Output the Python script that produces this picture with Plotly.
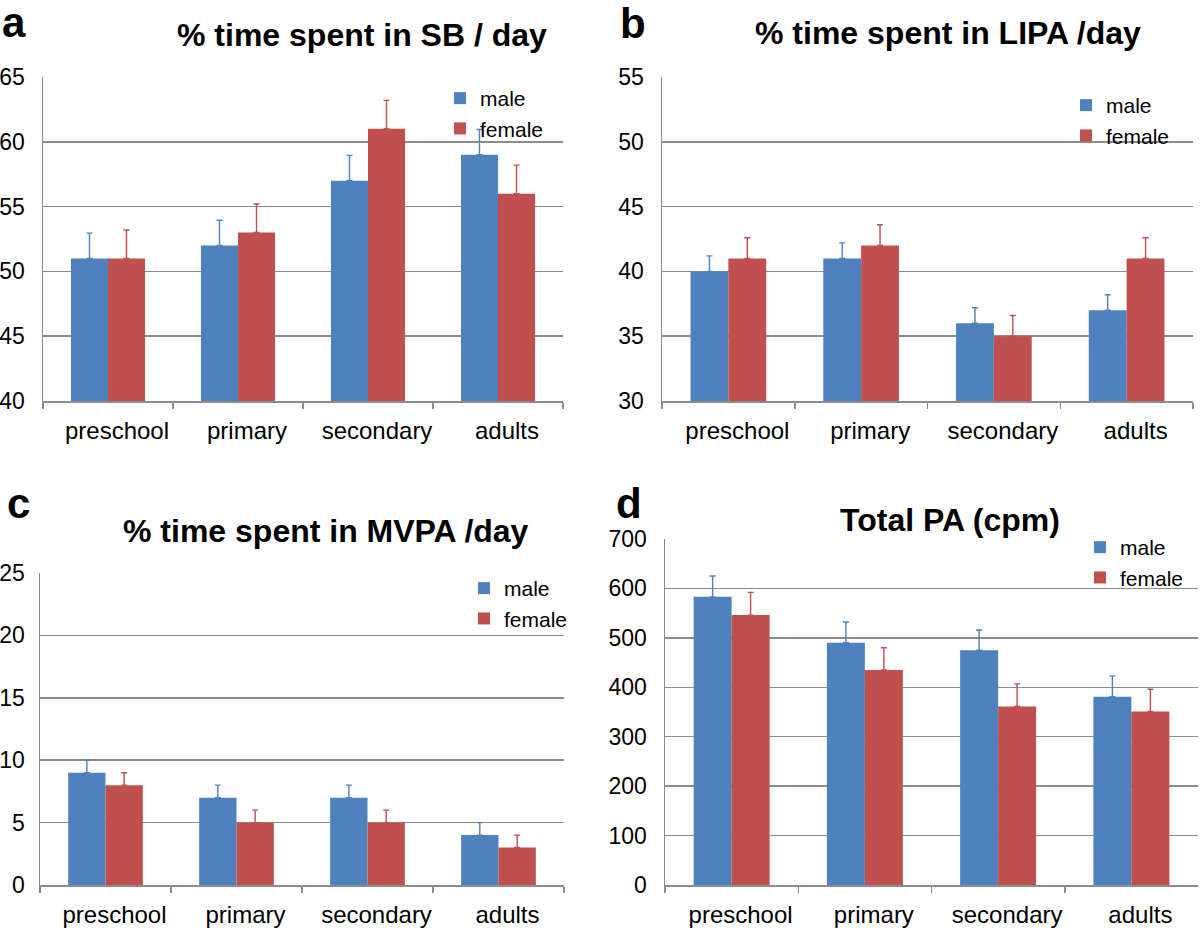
import plotly.graph_objects as go

categories = ["preschool", "primary", "secondary", "adults"]

# Panel a: % time spent in SB / day
sb_male = [51, 52, 57, 59]
sb_male_err = [1.95, 1.95, 1.95, 1.95]
sb_female = [51, 53, 61, 56]
sb_female_err = [2.2, 2.2, 2.2, 2.2]

# Panel b: % time spent in LIPA /day
lipa_male = [40, 41, 36, 37]
lipa_male_err = [1.2, 1.2, 1.2, 1.2]
lipa_female = [41, 42, 35, 41]
lipa_female_err = [1.6, 1.6, 1.6, 1.6]

# Panel c: % time spent in MVPA /day
mvpa_male = [9, 7, 7, 4]
mvpa_male_err = [1, 1, 1, 1]
mvpa_female = [8, 5, 5, 3]
mvpa_female_err = [1, 1, 1, 1]

# Panel d: Total PA (cpm)
pa_male = [583, 490, 475, 381]
pa_male_err = [42, 42, 41, 42]
pa_female = [546, 435, 361, 351]
pa_female_err = [46, 45, 46, 45]

BLUE = "#4F81BD"
RED = "#C0504D"
GRID = "#8C8C8C"
FONT = "Liberation Sans, Arial, sans-serif"

W, H = 1200, 929


def clamp(v):
    return max(0.0, min(1.0, v))


def px(x):
    return clamp(x / W)


def py(y):
    return clamp(1 - y / H)


panels = [
    dict(key="", male=sb_male, me=sb_male_err, female=sb_female, fe=sb_female_err,
         xd=(43, 563), yd=(77, 401), rng=(40, 65), dt=5, legend="legend", ystand=12,
         lx=440, ly=78, gap=0, title="% time spent in SB / day", tx=362, ty=35,
         letter="a", lxl=14, lyl=22),
    dict(key="2", male=lipa_male, me=lipa_male_err, female=lipa_female, fe=lipa_female_err,
         xd=(662, 1193), yd=(77, 401), rng=(30, 55), dt=5, legend="legend2", ystand=12,
         lx=1066, ly=85, gap=3, title="% time spent in LIPA /day", tx=948, ty=33,
         letter="b", lxl=633, lyl=23),
    dict(key="3", male=mvpa_male, me=mvpa_male_err, female=mvpa_female, fe=mvpa_female_err,
         xd=(40, 564), yd=(573, 885), rng=(0, 25), dt=5, legend="legend3", ystand=9,
         lx=464, ly=568, gap=0, title="% time spent in MVPA /day", tx=326, ty=531,
         letter="c", lxl=18, lyl=503),
    dict(key="4", male=pa_male, me=pa_male_err, female=pa_female, fe=pa_female_err,
         xd=(665, 1198), yd=(539, 885), rng=(0, 700), dt=100, legend="legend4", ystand=12,
         lx=1080, ly=527, gap=0, title="Total PA (cpm)", tx=950, ty=520,
         letter="d", lxl=629, lyl=503),
]

fig = go.Figure()
annotations = []
layout = {}

for p in panels:
    k = p["key"]
    xa = "x" + k
    ya = "y" + k
    fig.add_trace(go.Bar(
        x=categories, y=p["male"], name="male", marker_color=BLUE,
        marker_line_width=0, legendgroup="m",
        xaxis=xa, yaxis=ya, legend=p["legend"],
        error_y=dict(type="data", array=p["me"], arrayminus=[0] * 4, symmetric=False,
                     color=BLUE, thickness=1.4, width=3),
    ))
    fig.add_trace(go.Bar(
        x=categories, y=p["female"], name="female", marker_color=RED,
        marker_line_width=0, legendgroup="f",
        xaxis=xa, yaxis=ya, legend=p["legend"],
        error_y=dict(type="data", array=p["fe"], arrayminus=[0] * 4, symmetric=False,
                     color=RED, thickness=1.4, width=3),
    ))
    layout["xaxis" + k] = dict(
        domain=[px(p["xd"][0]), px(p["xd"][1])], anchor=ya, automargin=False,
        showline=True, linecolor=GRID, linewidth=1.5,
        ticks="outside", tickson="boundaries", ticklen=6, tickcolor=GRID, tickwidth=1.5,
        ticklabelstandoff=8, ticklabelshift=9,
        showgrid=False, tickfont=dict(family=FONT, size=24, color="#000"),
        fixedrange=True,
    )
    layout["yaxis" + k] = dict(
        domain=[py(p["yd"][1]), py(p["yd"][0])], anchor=xa, automargin=False,
        range=list(p["rng"]), dtick=p["dt"], tick0=0,
        showline=True, linecolor=GRID, linewidth=1.5,
        showgrid=True, gridcolor=GRID, gridwidth=1.5,
        zeroline=False, ticks="", ticklabelstandoff=p["ystand"],
        tickfont=dict(family=FONT, size=23, color="#000"),
        fixedrange=True,
    )
    layout[p["legend"]] = dict(
        x=px(p["lx"]), y=py(p["ly"]), xanchor="left", yanchor="top",
        xref="paper", yref="paper", bgcolor="rgba(0,0,0,0)",
        font=dict(family=FONT, size=21, color="#000"), tracegroupgap=p["gap"],
        itemwidth=30, traceorder="normal",
    )
    annotations.append(dict(
        x=px(p["tx"]), y=py(p["ty"]), xref="paper", yref="paper",
        text="<b>" + p["title"] + "</b>", showarrow=False,
        xanchor="center", yanchor="middle",
        font=dict(family=FONT, size=32, color="#000"),
    ))
    annotations.append(dict(
        x=px(p["lxl"]), y=py(p["lyl"]), xref="paper", yref="paper",
        text="<b>" + p["letter"] + "</b>", showarrow=False,
        xanchor="center", yanchor="middle",
        font=dict(family=FONT, size=42, color="#000"),
    ))

fig.update_layout(
    width=W, height=H,
    margin=dict(l=0, r=0, t=0, b=0, autoexpand=False),
    paper_bgcolor="white", plot_bgcolor="white",
    barmode="group", bargap=0.43, bargroupgap=0,
    annotations=annotations,
    showlegend=True,
    hovermode=False,
    **layout,
)

fig.write_html(
    "out.html",
    config={"displayModeBar": False, "staticPlot": True},
    post_script="document.body.style.margin='0';",
)
